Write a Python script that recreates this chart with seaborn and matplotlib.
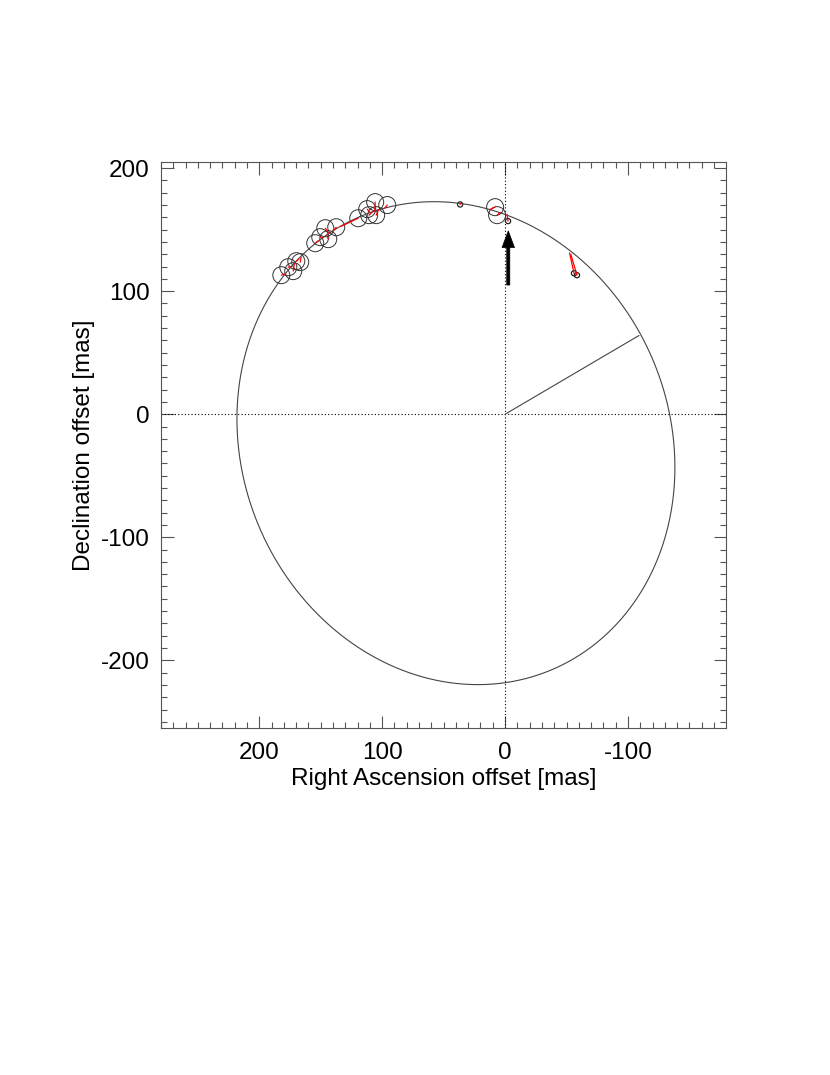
import numpy as np
import pandas as pd
import matplotlib
matplotlib.use("Agg")
import matplotlib.pyplot as plt
import seaborn as sns

# apparent orbit (ellipse) parameters in mas
orbit_center = (40.0, -23.5)
orbit_semi_major = 200.0
orbit_semi_minor = 174.0
orbit_angle_deg = 67.0
periastron = (-109.0, 64.0)

# observed positions (RA offset, Dec offset) in mas
obs_ra = [182.1, 176.4, 172.4, 169.9, 166.7, 154.5, 150.4, 146.3, 143.9, 137.4,
          119.5, 112.2, 110.6, 105.7, 104.9, 95.9, 8.1, 6.5]
obs_dec = [113.0, 119.5, 116.3, 124.4, 123.6, 139.0, 143.9, 151.2, 142.3, 152.0,
           159.3, 166.7, 161.8, 172.4, 161.8, 170.0, 168.3, 161.8]
# predicted positions on the orbit for those epochs
pred_ra = [178.5, 174.0, 171.5, 168.0, 166.0, 152.0, 148.0, 143.5, 145.0, 140.0,
           134.0, 110.0, 108.0, 106.0, 103.0, 98.0, 12.0, 4.0]
pred_dec = [114.2, 120.0, 122.5, 126.0, 127.5, 141.0, 143.5, 147.0, 145.5, 149.0,
            152.5, 164.0, 164.5, 165.0, 166.0, 167.5, 166.5, 164.0]

# small-error measurements
small_ra = [36.6, -2.4, -56.1, -58.5]
small_dec = [170.5, 157.0, 114.6, 113.0]
small_pred_ra = [36.0, -1.5, -52.5, -53.5]
small_pred_dec = [171.5, 162.5, 131.0, 130.0]

# arrow marking the new epoch
arrow_x = -2.6
arrow_from = 105.0
arrow_to = 149.0

sns.set_style("ticks")
plt.rcParams["font.family"] = ["Liberation Sans", "DejaVu Sans"]

fig = plt.figure(figsize=(8.3, 10.75), dpi=100)
ax = fig.add_axes([0.194, 0.3228, 0.681, 0.5265])

# orbit curve
t = np.linspace(0, 2 * np.pi, 400)
phi = np.radians(orbit_angle_deg)
ex = orbit_center[0] + orbit_semi_major * np.cos(t) * np.cos(phi) - orbit_semi_minor * np.sin(t) * np.sin(phi)
ey = orbit_center[1] + orbit_semi_major * np.cos(t) * np.sin(phi) + orbit_semi_minor * np.sin(t) * np.cos(phi)
orbit_df = pd.DataFrame({"ra": ex, "dec": ey})
sns.lineplot(data=orbit_df, x="ra", y="dec", sort=False, estimator=None,
             color="#444444", lw=0.8, ax=ax)

# dotted axes through the star
ax.axhline(0, color="black", lw=0.8, ls=(0, (1, 2)), zorder=1)
ax.axvline(0, color="black", lw=0.8, ls=(0, (1, 2)), zorder=1)

# line from star to periastron
ax.plot([0, periastron[0]], [0, periastron[1]], color="#444444", lw=0.8)

# residual lines
for ra, dec, pra, pdec in zip(obs_ra + small_ra, obs_dec + small_dec,
                              pred_ra + small_pred_ra, pred_dec + small_pred_dec):
    ax.plot([ra, pra], [dec, pdec], color="red", lw=0.9)

obs_df = pd.DataFrame({"ra": obs_ra, "dec": obs_dec})
sns.scatterplot(data=obs_df, x="ra", y="dec", marker="o", s=150,
                facecolors="none", edgecolor="#333333", linewidth=0.7, ax=ax)
small_df = pd.DataFrame({"ra": small_ra, "dec": small_dec})
sns.scatterplot(data=small_df, x="ra", y="dec", marker="o", s=14,
                facecolors="none", edgecolor="#222222", linewidth=0.9, ax=ax)

ax.annotate("", xy=(arrow_x, arrow_to), xytext=(arrow_x, arrow_from),
            arrowprops=dict(width=2.2, headwidth=9, headlength=12, lw=0.5,
                            facecolor="black", edgecolor="black"),
            zorder=10)

ax.set_xlim(280, -180)
ax.set_ylim(-255, 205)
ax.set_xticks([200, 100, 0, -100])
ax.set_xticklabels(["200", "100", "0", "-100"])
ax.set_yticks([-200, -100, 0, 100, 200])
ax.set_yticklabels(["-200", "-100", "0", "100", "200"])
ax.set_xticks(np.arange(-170, 281, 10), minor=True)
ax.set_yticks(np.arange(-250, 201, 10), minor=True)
ax.tick_params(which="both", direction="in", top=True, right=True,
               color="#555555", width=0.8, labelsize=17.5, pad=8,
               labelcolor="black")
ax.tick_params(axis="x", which="both", pad=10)
ax.tick_params(which="major", length=9)
ax.tick_params(which="minor", length=4.5)
for sp in ax.spines.values():
    sp.set_color("#555555")
    sp.set_linewidth(0.8)

ax.set_xlabel("Right Ascension offset [mas]", fontsize=17.5, labelpad=3,
              color="black")
ax.set_ylabel("Declination offset [mas]", fontsize=17.5, labelpad=4,
              color="black")

fig.savefig("out.png", dpi=100)
